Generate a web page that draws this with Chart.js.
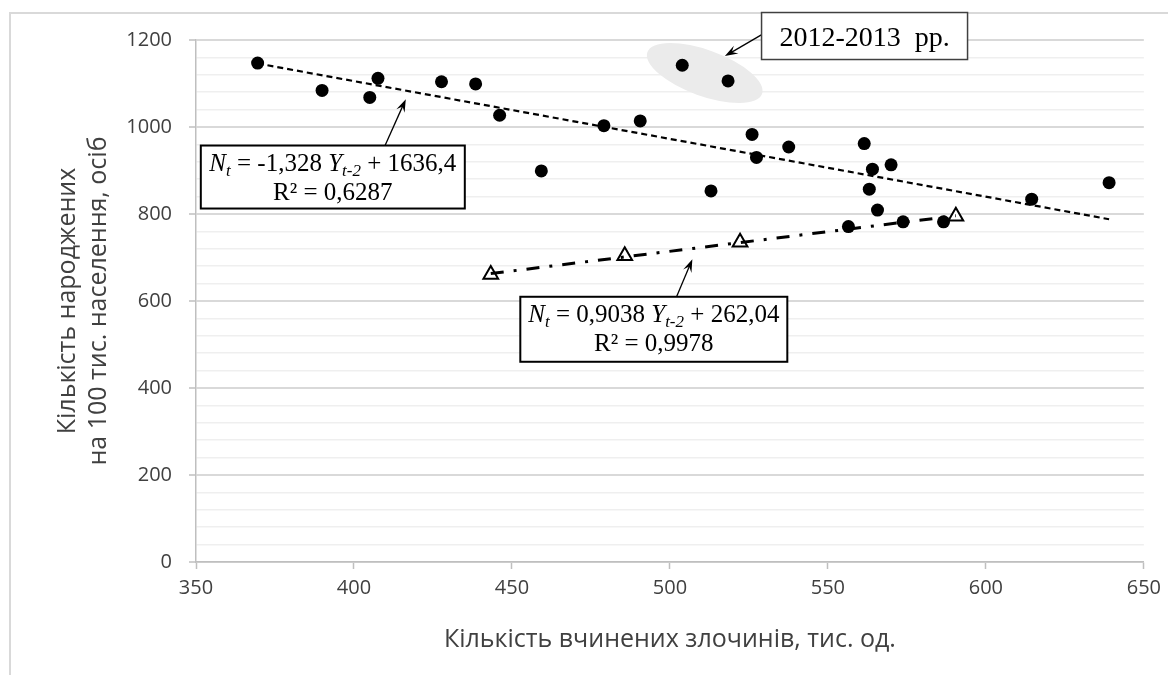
<!DOCTYPE html>
<html>
<head>
<meta charset="utf-8">
<script src="https://cdn.jsdelivr.net/npm/chart.js@4.4.0/dist/chart.umd.min.js"></script>
<style>
  html, body { margin: 0; padding: 0; background: #fff; overflow: hidden; }
</style>
</head>
<body>
<canvas id="chart" width="1168" height="675"></canvas>
<script>
// Crimes committed (thousand) vs births per 100k population
const crimesX = [369.5, 389.9, 405.0, 407.6, 427.7, 438.5, 446.1, 459.3, 479.1, 490.6, 503.9, 513.0, 518.4, 526.0, 527.4, 537.6, 556.5, 561.5, 563.1, 564.1, 565.7, 570.0, 573.8, 586.6, 614.5, 639.0];
const birthsY = [1147, 1084, 1068, 1112, 1104, 1099, 1027, 899, 1003, 1014, 1142, 853, 1106, 983, 930, 954, 771, 962, 857, 903, 809, 913, 782, 782, 834, 872];

// lagged series (triangles)
const lagX = [443.3, 485.7, 522.2, 590.5];
const lagY = [661, 704, 735, 795];

// trendline end points
const trend1X = [369.5, 639.0];
const trend1Y = [1146, 788];
const trend2X = [443.3, 590.5];
const trend2Y = [663, 796];

const xTicks = [350, 400, 450, 500, 550, 600, 650];
const yTicks = [0, 200, 400, 600, 800, 1000, 1200];
const yMinorStep = 40;

const xTitle = 'Кількість вчинених злочинів, тис. од.';
const yTitle = ['Кількість народжених', 'на 100 тис. населення, осіб'];

const toPoints = (xs, ys) => xs.map((x, i) => ({ x: x, y: ys[i] }));

// annotation anchors in data units
const eq1 = { x: 393.3, y: 885, parts: [['N', 'i'], ['t', 's'], [' = -1,328 ', ''], ['Y', 'i'], ['t-2', 's'], [' + 1636,4', '']], r2: 'R² = 0,6287' };
const eq2 = { x: 494.9, y: 535, parts: [['N', 'i'], ['t', 's'], [' = 0,9038 ', ''], ['Y', 'i'], ['t-2', 's'], [' + 262,04', '']], r2: 'R² = 0,9978' };
const yearLabel = { x: 561.6, y: 1208, text: '2012-2013  pp.' };
const arrows = [
    { from: [409.7, 955], to: [416.4, 1064] },
    { from: [502.1, 610], to: [507.1, 696] },
    { from: [529.2, 1213], to: [517.4, 1163] }
];
const highlight = { x: 511.0, y: 1124 };

const serif = '"Liberation Serif", "Times New Roman", serif';
const sans = '"Open Sans", sans-serif';

function drawArrow(ctx, x1, y1, x2, y2) {
    const ang = Math.atan2(y2 - y1, x2 - x1);
    const len = 13, half = 4.5;
    ctx.strokeStyle = '#000';
    ctx.fillStyle = '#000';
    ctx.lineWidth = 1.3;
    ctx.beginPath();
    ctx.moveTo(x1, y1);
    ctx.lineTo(x2 - Math.cos(ang) * 6, y2 - Math.sin(ang) * 6);
    ctx.stroke();
    ctx.beginPath();
    ctx.moveTo(x2, y2);
    ctx.lineTo(x2 - Math.cos(ang) * len - Math.sin(ang) * half, y2 - Math.sin(ang) * len + Math.cos(ang) * half);
    ctx.lineTo(x2 - Math.cos(ang) * 8, y2 - Math.sin(ang) * 8);
    ctx.lineTo(x2 - Math.cos(ang) * len + Math.sin(ang) * half, y2 - Math.sin(ang) * len - Math.cos(ang) * half);
    ctx.closePath();
    ctx.fill();
}

function drawEquationBox(ctx, cx, cy, eq, w, h) {
    ctx.save();
    ctx.fillStyle = '#fff';
    ctx.fillRect(cx - w / 2, cy - h / 2, w, h);
    ctx.strokeStyle = '#000';
    ctx.lineWidth = 2;
    ctx.strokeRect(cx - w / 2, cy - h / 2, w, h);

    const big = 25, small = 17;
    const fontFor = (style) => {
        if (style === 's') return 'italic ' + small + 'px ' + serif;
        if (style === 'i') return 'italic ' + big + 'px ' + serif;
        return big + 'px ' + serif;
    };
    let total = 0;
    eq.parts.forEach(p => { ctx.font = fontFor(p[1]); total += ctx.measureText(p[0]).width; });
    let x = cx - total / 2;
    const base1 = cy - h / 2 + 25.5;
    ctx.fillStyle = '#000';
    ctx.textAlign = 'left';
    ctx.textBaseline = 'alphabetic';
    eq.parts.forEach(p => {
        ctx.font = fontFor(p[1]);
        ctx.fillText(p[0], x, p[1] === 's' ? base1 + 5 : base1);
        x += ctx.measureText(p[0]).width;
    });
    ctx.font = big + 'px ' + serif;
    ctx.textAlign = 'center';
    ctx.fillText(eq.r2, cx, base1 + 28.5);
    ctx.restore();
}

const annotations = {
    id: 'annotations',
    beforeDraw(chart) {
        const ctx = chart.ctx;
        ctx.save();
        ctx.strokeStyle = '#d9d9d9';
        ctx.lineWidth = 2;
        ctx.strokeRect(10, 13, 1400, 900);
        ctx.restore();
    },
    beforeDatasetsDraw(chart) {
        const ctx = chart.ctx;
        const sx = chart.scales.x, sy = chart.scales.y;
        ctx.save();
        ctx.fillStyle = '#ebebeb';
        ctx.beginPath();
        ctx.ellipse(sx.getPixelForValue(highlight.x), sy.getPixelForValue(highlight.y), 61, 23, 20 * Math.PI / 180, 0, Math.PI * 2);
        ctx.fill();
        ctx.restore();
    },
    afterDatasetsDraw(chart) {
        const ctx = chart.ctx;
        const sx = chart.scales.x, sy = chart.scales.y;
        ctx.save();
        arrows.forEach(a => drawArrow(ctx,
            sx.getPixelForValue(a.from[0]), sy.getPixelForValue(a.from[1]),
            sx.getPixelForValue(a.to[0]), sy.getPixelForValue(a.to[1])));

        drawEquationBox(ctx, sx.getPixelForValue(eq1.x), sy.getPixelForValue(eq1.y), eq1, 264, 63);
        drawEquationBox(ctx, sx.getPixelForValue(eq2.x), sy.getPixelForValue(eq2.y), eq2, 267, 65);

        // year label box
        const lx = sx.getPixelForValue(yearLabel.x), ly = sy.getPixelForValue(yearLabel.y);
        ctx.fillStyle = '#fff';
        ctx.fillRect(lx - 103, ly - 24, 206, 47);
        ctx.strokeStyle = '#404040';
        ctx.lineWidth = 1.5;
        ctx.strokeRect(lx - 103, ly - 24, 206, 47);
        ctx.fillStyle = '#000';
        ctx.font = '28px ' + serif;
        ctx.textAlign = 'center';
        ctx.textBaseline = 'alphabetic';
        ctx.fillText(yearLabel.text, lx, ly + 9);
        ctx.restore();
    }
};

const tickFont = { family: sans, size: 20 };

new Chart(document.getElementById('chart'), {
    type: 'scatter',
    data: {
        datasets: [{
            type: 'line',
            data: toPoints(trend1X, trend1Y),
            borderColor: '#000',
            borderWidth: 2.2,
            borderDash: [6, 4],
            pointRadius: 0,
            fill: false,
            order: 0
        }, {
            type: 'line',
            data: toPoints(trend2X, trend2Y),
            borderColor: '#000',
            borderWidth: 3,
            borderDash: [13, 10, 3, 10],
            pointRadius: 0,
            fill: false,
            order: 0
        }, {
            data: toPoints(crimesX, birthsY),
            pointStyle: 'circle',
            pointRadius: 6.5,
            pointBackgroundColor: '#000',
            pointBorderColor: '#000',
            pointBorderWidth: 0,
            order: 1
        }, {
            data: toPoints(lagX, lagY),
            pointStyle: 'triangle',
            pointRadius: 8.5,
            pointBackgroundColor: '#fff',
            pointBorderColor: '#000',
            pointBorderWidth: 2,
            order: 2
        }]
    },
    options: {
        responsive: false,
        animation: false,
        layout: { padding: { top: 40, right: 23, bottom: 0, left: 0 } },
        plugins: {
            legend: { display: false },
            tooltip: { enabled: false }
        },
        scales: {
            x: {
                type: 'linear',
                min: 350,
                max: 650,
                afterBuildTicks: scale => { scale.ticks = xTicks.map(v => ({ value: v })); },
                afterFit: scale => { scale.height = 113; },
                ticks: { font: tickFont, color: '#404040', padding: 7 },
                grid: { drawOnChartArea: false, drawTicks: true, tickLength: 7, tickColor: '#bfbfbf', tickWidth: 1.5 },
                border: { color: '#bfbfbf', width: 1.5 },
                title: {
                    display: true,
                    text: xTitle,
                    color: '#404040',
                    font: { family: sans, size: 25, lineHeight: 1.2 },
                    padding: { top: 0, bottom: 20 }
                }
            },
            y: {
                min: 0,
                max: 1200,
                afterBuildTicks: scale => {
                    const t = [];
                    for (let v = yTicks[0]; v <= yTicks[yTicks.length - 1]; v += yMinorStep) t.push({ value: v });
                    scale.ticks = t;
                },
                afterFit: scale => { scale.width = 196; },
                ticks: {
                    font: tickFont,
                    color: '#404040',
                    padding: 17,
                    autoSkip: false,
                    callback: v => (yTicks.includes(v) ? v : '')
                },
                grid: {
                    tickLength: 7,
                    color: c => (c.tick && yTicks.includes(c.tick.value) ? '#d9d9d9' : '#efefef'),
                    lineWidth: c => (c.tick && yTicks.includes(c.tick.value) ? 2 : 1.5),
                    tickColor: c => (c.tick && yTicks.includes(c.tick.value) ? '#bfbfbf' : 'rgba(0,0,0,0)'),
                    tickWidth: 1.5
                },
                border: { color: '#bfbfbf', width: 1.5 },
                title: {
                    display: true,
                    text: yTitle,
                    color: '#404040',
                    font: { family: sans, size: 25, lineHeight: 1.24 },
                    padding: { top: 52, bottom: 0 }
                }
            }
        }
    },
    plugins: [annotations]
});
</script>
</body>
</html>
